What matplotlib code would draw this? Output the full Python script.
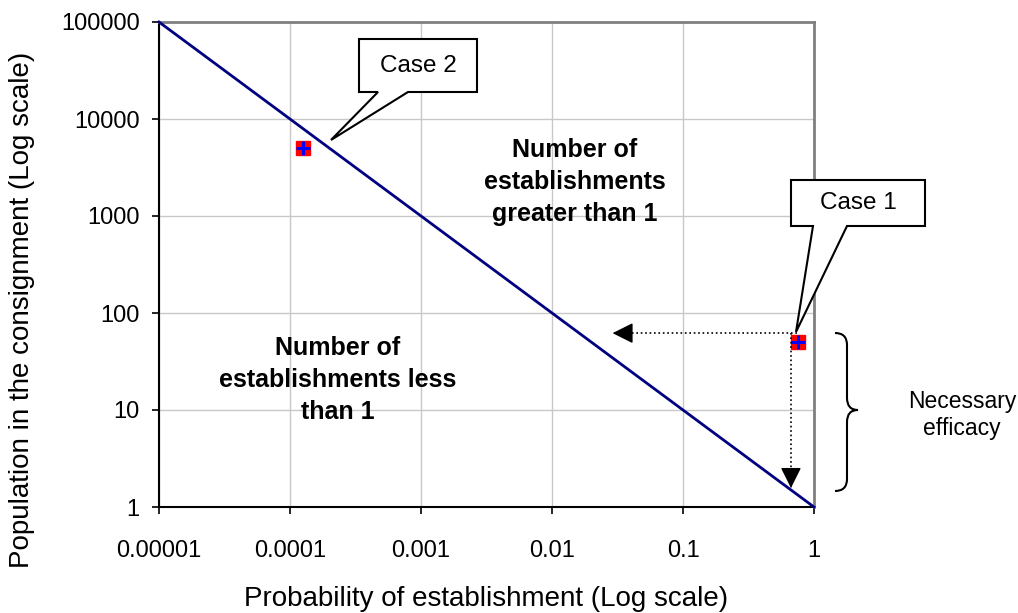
import matplotlib
matplotlib.use("Agg")
import matplotlib.pyplot as plt
from matplotlib.patches import Polygon, PathPatch
from matplotlib.path import Path
from matplotlib.ticker import NullLocator

plt.rcParams['font.family'] = ['Liberation Sans', 'DejaVu Sans']

# boundary: number of establishments == 1
boundary_prob = [0.00001, 1]
boundary_pop = [100000, 1]

# the two cases
case_prob = [0.75, 0.000125]
case_pop = [50, 5000]

# guide arrows from case 1 (start, tip)
guide_h = ([0.74, 0.029], [62, 62])
guide_v = ([0.667, 0.667], [62, 1.57])

x_ticks = [0.00001, 0.0001, 0.001, 0.01, 0.1, 1]
x_tick_labels = ['0.00001', '0.0001', '0.001', '0.01', '0.1', '1']
y_ticks = [1, 10, 100, 1000, 10000, 100000]
y_tick_labels = ['1', '10', '100', '1000', '10000', '100000']

W, H = 1018, 613


#pixel (from top-left) -> figure fraction
def px(x, y):
    return (x / W, 1 - y / H)


fig = plt.figure(figsize=(W / 100, H / 100), dpi=100)
ax = fig.add_axes([159 / W, 1 - 507 / H, (814 - 159) / W, (507 - 22) / H])
ax.set_xscale('log')
ax.set_yscale('log')
ax.set_xlim(1e-5, 1)
ax.set_ylim(1, 1e5)

ax.set_xticks(x_ticks, x_tick_labels)
ax.set_yticks(y_ticks, y_tick_labels)
ax.xaxis.set_minor_locator(NullLocator())
ax.yaxis.set_minor_locator(NullLocator())
ax.grid(True, color='#c8c8c8', lw=1)
ax.set_axisbelow(True)

ax.tick_params(direction='out', length=5, width=1.2, color='black', labelsize=17)
ax.tick_params(axis='x', pad=19)
ax.tick_params(axis='y', pad=9)

for s in ['top', 'right']:
    ax.spines[s].set_color('#808080')
    ax.spines[s].set_linewidth(2)
for s in ['left', 'bottom']:
    ax.spines[s].set_color('black')
    ax.spines[s].set_linewidth(1.5)

ax.plot(boundary_prob, boundary_pop, color='#000080', lw=2, clip_on=False, zorder=3)
ax.plot(case_prob, case_pop, ls='none', marker='s', ms=10, mfc='red', mec='red', zorder=4)
ax.plot(case_prob, case_pop, ls='none', marker='+', ms=10, mew=2.2, color='blue', zorder=5)

# dotted guide lines with solid heads
heads = [(13, 0), (0, 13)]
for (gx, gy), off in zip([guide_h, guide_v], heads):
    ax.plot(gx, gy, ls=':', lw=1.2, color='black', zorder=6)
    ax.annotate('', xy=(gx[1], gy[1]), xytext=off, textcoords='offset points',
                arrowprops=dict(arrowstyle='-|>,head_length=0.4,head_width=0.2',
                                lw=1, color='black', fc='black',
                                mutation_scale=32, shrinkA=0, shrinkB=0),
                zorder=6)

# region labels
ax.text(0.635, 0.670, 'Number of\nestablishments\ngreater than 1', transform=ax.transAxes,
        ha='center', va='center', fontsize=18, fontweight='bold', linespacing=1.4)
ax.text(0.273, 0.262, 'Number of\nestablishments less\nthan 1', transform=ax.transAxes,
        ha='center', va='center', fontsize=18, fontweight='bold', linespacing=1.4)

# callouts
callouts = [
    ('Case 1', [(791, 180), (925, 180), (925, 226), (847, 226), (796, 332), (813, 226), (791, 226)]),
    ('Case 2', [(359, 39), (477, 39), (477, 92), (408, 92), (331, 140), (378, 92), (359, 92)]),
]
for label, pts in callouts:
    poly = Polygon([px(*p) for p in pts], closed=True, transform=fig.transFigure,
                   fc='white', ec='black', lw=1.5, zorder=10)
    fig.patches.append(poly)
    cx = (pts[0][0] + pts[1][0]) / 2
    cy = (pts[0][1] + pts[2][1]) / 2
    fig.text(*px(cx, cy), label, ha='center', va='center', fontsize=17.5, zorder=11)

# brace
verts = [(835, 333), (847, 333), (847, 345), (847, 398), (847, 410), (858, 410),
         (847, 410), (847, 422), (847, 479), (847, 491), (835, 491)]
codes = [Path.MOVETO, Path.CURVE3, Path.CURVE3, Path.LINETO, Path.CURVE3, Path.CURVE3,
         Path.CURVE3, Path.CURVE3, Path.LINETO, Path.CURVE3, Path.CURVE3]
brace = PathPatch(Path([px(*v) for v in verts], codes), transform=fig.transFigure,
                  fc='none', ec='black', lw=1.5)
fig.patches.append(brace)
fig.text(*px(962, 415), 'Necessary\nefficacy', ha='center', va='center', fontsize=16.5,
         linespacing=1.2)

ax.set_xlabel('Probability of establishment (Log scale)', fontsize=20)
ax.set_ylabel('Population in the consignment (Log scale)', fontsize=20)
ax.xaxis.set_label_coords(0.5, -0.163)
ax.yaxis.set_label_coords(-0.19, 0.406)

fig.savefig('out.png', dpi=100)
